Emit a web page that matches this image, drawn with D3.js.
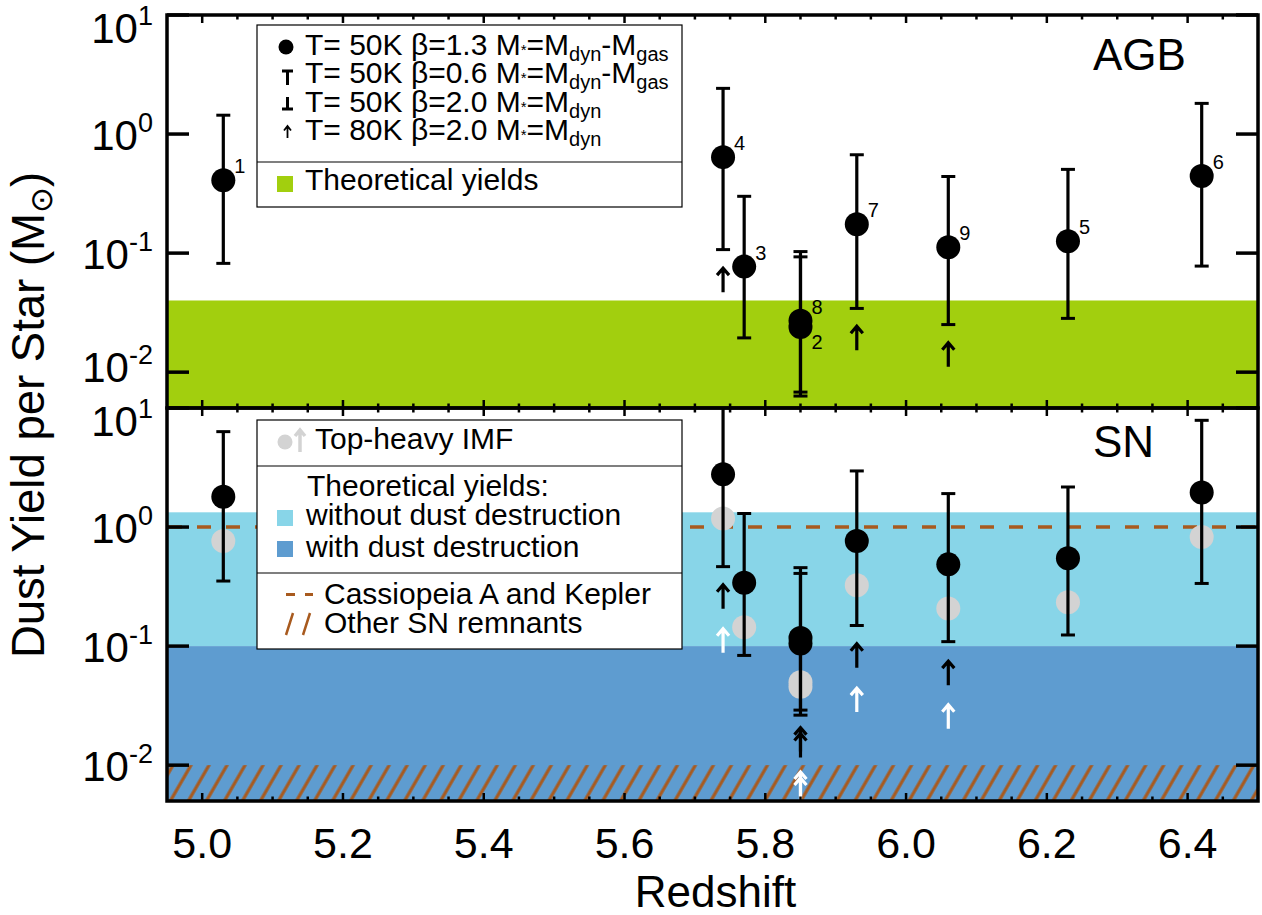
<!DOCTYPE html>
<html>
<head>
<meta charset="utf-8">
<script src="https://cdn.jsdelivr.net/npm/d3@7"></script>
<style>
  body { margin: 0; background: #fff; }
  text { font-family: "Liberation Sans", Arial, Helvetica, sans-serif; fill: #000; }
</style>
</head>
<body>
<svg id="chart" width="1262" height="915"></svg>
<script>
// ---- data ----
const sources  = ["1", "4", "3", "8", "2", "7", "9", "5", "6"];
const redshift = [5.03, 5.74, 5.77, 5.85, 5.85, 5.93, 6.06, 6.23, 6.42];

// AGB panel (M_sun per star)
const agbYield = [0.41, 0.64, 0.077, 0.027, 0.024, 0.175, 0.112, 0.126, 0.444];
const agbUpper = [1.44, 2.42, 0.30, 0.103, 0.093, 0.67, 0.44, 0.505, 1.81];
const agbLower = [0.082, 0.107, 0.0194, 0.0068, 0.0063, 0.0343, 0.0251, 0.0283, 0.0778];
const agbHot   = [null, 0.047, null, null, null, 0.0153, 0.0111, null, null];

// SN panel
const snYield  = [1.80, 2.77, 0.341, 0.117, 0.105, 0.763, 0.486, 0.546, 1.95];
const snUpper  = [6.33, 10.5, 1.30, 0.456, 0.408, 2.96, 1.91, 2.17, 7.88];
const snLower  = [0.352, 0.465, 0.0835, 0.029, 0.0263, 0.149, 0.109, 0.124, 0.336];
const snHot    = [null, 0.206, null, 0.013, 0.0116, 0.0658, 0.047, null, null];
const snTopHeavy    = [0.763, 1.18, 0.144, 0.0498, 0.0456, 0.324, 0.207, 0.234, 0.824];
const snTopHeavyHot = [null, 0.088, null, 0.0055, 0.0049, 0.0279, 0.0202, null, null];

// theoretical ranges
const agbTheory      = [0.005, 0.04];
const snNoDestruct   = [0.1, 1.33];
const snDestruct     = [0.005, 0.1];
const snRemnants     = [0.005, 0.01];
const casKepler      = 1.0;

const xTicks    = [5.0, 5.2, 5.4, 5.6, 5.8, 6.0, 6.2, 6.4];
const xDomain   = [4.95, 6.5];
const yDomain   = [0.005, 10];
const yTickExps = [-2, -1, 0, 1];

// ---- colours ----
const GREEN = "#a2cf0e", LBLUE = "#88d5e8", DBLUE = "#5e9cd0", BROWN = "#a85a1e", GREY = "#d3d3d3";

const svg = d3.select("#chart");
const left = 167, right = 1258;
const x = d3.scaleLinear().domain(xDomain).range([left, right]);

const panels = [
  { name: "AGB", top: 15, bottom: 408 },
  { name: "SN",  top: 408, bottom: 801 }
];
panels.forEach(p => { p.y = d3.scaleLog().domain(yDomain).range([p.bottom, p.top]); });

const defs = svg.append("defs");
panels.forEach((p, i) => {
  defs.append("clipPath").attr("id", "clip" + i)
    .append("rect").attr("x", left).attr("y", p.top).attr("width", right - left).attr("height", p.bottom - p.top);
});
const hatch = defs.append("pattern").attr("id", "hatch")
  .attr("patternUnits", "userSpaceOnUse").attr("width", 15.6).attr("height", 20)
  .attr("patternTransform", "rotate(30)");
hatch.append("line").attr("x1", 2).attr("y1", -5).attr("x2", 2).attr("y2", 25)
  .attr("stroke", BROWN).attr("stroke-width", 3.2);

function band(g, p, range, fill) {
  g.append("rect").attr("x", left).attr("width", right - left)
    .attr("y", p.y(range[1])).attr("height", p.y(range[0]) - p.y(range[1]))
    .attr("fill", fill);
}

function errorBar(g, p, xv, lo, hi) {
  const cx = x(xv);
  g.append("line").attr("x1", cx).attr("x2", cx).attr("y1", p.y(lo)).attr("y2", p.y(hi))
    .attr("stroke", "#000").attr("stroke-width", 3.2);
  [lo, hi].forEach(v => {
    g.append("line").attr("x1", cx - 7).attr("x2", cx + 7).attr("y1", p.y(v)).attr("y2", p.y(v))
      .attr("stroke", "#000").attr("stroke-width", 3);
  });
}

function arrow(g, cx, yTail, len, head, color, sw) {
  const tip = yTail - len;
  g.append("path")
    .attr("d", `M${cx},${yTail}V${tip + 1}M${cx - head},${tip + head + 2}L${cx},${tip + 1}L${cx + head},${tip + head + 2}`)
    .attr("fill", "none").attr("stroke", color).attr("stroke-width", sw)
    .attr("stroke-linejoin", "miter");
}

// ---- panel contents ----
panels.forEach((p, pi) => {
  const g = svg.append("g").attr("clip-path", `url(#clip${pi})`);
  if (pi === 0) {
    band(g, p, agbTheory, GREEN);
  } else {
    band(g, p, snNoDestruct, LBLUE);
    band(g, p, snDestruct, DBLUE);
    band(g, p, snRemnants, "url(#hatch)");
    g.append("line").attr("x1", left + 1).attr("x2", right).attr("y1", p.y(casKepler)).attr("y2", p.y(casKepler))
      .attr("stroke", BROWN).attr("stroke-width", 3.5).attr("stroke-dasharray", "14,15");
  }

  const val = pi === 0 ? agbYield : snYield;
  const up  = pi === 0 ? agbUpper : snUpper;
  const lo  = pi === 0 ? agbLower : snLower;
  const hot = pi === 0 ? agbHot : snHot;

  if (pi === 1) {
    g.selectAll("circle.th").data(snTopHeavy).enter().append("circle")
      .attr("cx", (d, i) => x(redshift[i])).attr("cy", d => p.y(d)).attr("r", 12).attr("fill", GREY);
    snTopHeavyHot.forEach((v, i) => { if (v != null) arrow(g, x(redshift[i]), p.y(v), 25, 6, "#fff", 3.2); });
  }
  hot.forEach((v, i) => { if (v != null) arrow(g, x(redshift[i]), p.y(v), 25, 6, "#000", 3.2); });
  val.forEach((v, i) => errorBar(g, p, redshift[i], lo[i], up[i]));
  g.selectAll("circle.pt").data(val).enter().append("circle")
    .attr("cx", (d, i) => x(redshift[i])).attr("cy", d => p.y(d)).attr("r", 12).attr("fill", "#000");

  if (pi === 0) {
    svg.append("g").selectAll("text").data(val).enter().append("text")
      .attr("x", (d, i) => x(redshift[i]) + 11)
      .attr("y", (d, i) => p.y(d) + (sources[i] === "2" ? 22 : -7))
      .attr("font-size", 20)
      .text((d, i) => sources[i]);
  }

  // frame
  svg.append("rect").attr("x", left).attr("y", p.top).attr("width", right - left).attr("height", p.bottom - p.top)
    .attr("fill", "none").attr("stroke", "#000").attr("stroke-width", 3.5);

  // x ticks (major + minor), top and bottom, pointing inward
  const minor = d3.range(99, 131).map(k => k * 0.05).filter(v => v > xDomain[0] + 1e-6 && v < xDomain[1] - 1e-6);
  const tg = svg.append("g").attr("stroke", "#000").attr("stroke-width", 2.5);
  minor.forEach(v => {
    const isMajor = xTicks.some(t => Math.abs(t - v) < 1e-6);
    const len = isMajor ? 8 : 4.5;
    tg.append("line").attr("x1", x(v)).attr("x2", x(v)).attr("y1", p.top).attr("y2", p.top + len);
    tg.append("line").attr("x1", x(v)).attr("x2", x(v)).attr("y1", p.bottom).attr("y2", p.bottom - len);
  });
  // y ticks; labels at the panel edges are nudged inward as in the original
  yTickExps.forEach(e => {
    const yy = p.y(Math.pow(10, e));
    tg.append("line").attr("x1", left).attr("x2", left + 22).attr("y1", yy).attr("y2", yy).attr("stroke-width", 3.5);
    tg.append("line").attr("x1", right - 22).attr("x2", right).attr("y1", yy).attr("y2", yy).attr("stroke-width", 3.5);
    let off = 16;
    if (e === 1) off = 28;
    if (e === -2 && pi === 0) off = 10;
    const t = svg.append("text").attr("x", 153).attr("y", yy + off).attr("text-anchor", "end").attr("font-size", 42);
    t.append("tspan").text("10");
    t.append("tspan").attr("font-size", 27).attr("dy", -18).text(String(e));
  });

  svg.append("text").attr("x", 1093).attr("y", p.top + (pi === 0 ? 55 : 49)).attr("font-size", 44).text(p.name);
});

// x tick labels + titles
svg.append("g").selectAll("text").data(xTicks).enter().append("text")
  .attr("x", d => x(d)).attr("y", 858).attr("text-anchor", "middle").attr("font-size", 43)
  .text(d => d.toFixed(1));
svg.append("text").attr("x", (left + right) / 2 + 3).attr("y", 907).attr("text-anchor", "middle")
  .attr("font-size", 44).text("Redshift");

const yt = svg.append("text").attr("transform", "translate(44,415) rotate(-90)")
  .attr("text-anchor", "middle").attr("font-size", 45.5);
yt.append("tspan").text("Dust Yield per Star (M");
yt.append("tspan").attr("font-size", 31).attr("dy", 8).style("font-family", "DejaVu Sans").text("\u2299");
yt.append("tspan").attr("dy", -8).text(")");

// ---- legends ----
function legendBox(x0, y0, x1, y1, dividers) {
  svg.append("rect").attr("x", x0).attr("y", y0).attr("width", x1 - x0).attr("height", y1 - y0)
    .attr("fill", "#fff").attr("stroke", "#000").attr("stroke-width", 1.2);
  dividers.forEach(d => svg.append("line").attr("x1", x0).attr("x2", x1).attr("y1", d).attr("y2", d)
    .attr("stroke", "#000").attr("stroke-width", 1.2));
}
function legendText(xx, yy, parts) {
  const t = svg.append("text").attr("x", xx).attr("y", yy).attr("font-size", 30);
  let shift = 0;
  parts.forEach(([s, kind]) => {
    const sp = t.append("tspan").text(s);
    if (kind === "sub") { sp.attr("font-size", 20).attr("dy", 6 - shift); shift = 6; }
    else if (kind === "star") { sp.attr("font-size", 15).attr("dy", -shift); shift = 0; }
    else if (shift) { sp.attr("dy", -shift); shift = 0; }
  });
  return t;
}

legendBox(257, 25, 682, 207, [162]);
const legendRows = [
  ["1.3", "50K", true], ["0.6", "50K", true], ["2.0", "50K", false], ["2.0", "80K", false]
];
legendRows.forEach((r, i) => {
  const parts = [[`T= ${r[1]} \u03b2=${r[0]} M`], ["*", "star"], ["=M"], ["dyn", "sub"]];
  if (r[2]) { parts.push(["-M"]); parts.push(["gas", "sub"]); }
  legendText(305, 55 + i * 28.4, parts);
});
svg.append("circle").attr("cx", 286).attr("cy", 47).attr("r", 7.5).attr("fill", "#000");
svg.append("path").attr("d", "M282,71H293M287.5,71V85").attr("stroke", "#000").attr("stroke-width", 3).attr("fill", "none");
svg.append("path").attr("d", "M287.5,97V109M282,109H293").attr("stroke", "#000").attr("stroke-width", 3).attr("fill", "none");
arrow(svg, 287.5, 138, 13, 3.5, "#000", 1.8);
svg.append("rect").attr("x", 277).attr("y", 176).attr("width", 16).attr("height", 16).attr("fill", GREEN);
legendText(305, 190, [["Theoretical yields"]]);

legendBox(257, 420, 682, 649, [466, 573]);
svg.append("circle").attr("cx", 285).attr("cy", 442).attr("r", 7.5).attr("fill", GREY);
arrow(svg, 300, 452, 23, 5, GREY, 3.5);
legendText(315, 449, [["Top-heavy IMF"]]);
legendText(307, 496, [["Theoretical yields:"]]);
svg.append("rect").attr("x", 277).attr("y", 510).attr("width", 16).attr("height", 16).attr("fill", LBLUE);
legendText(306, 525, [["without dust destruction"]]);
svg.append("rect").attr("x", 277).attr("y", 541).attr("width", 16).attr("height", 16).attr("fill", DBLUE);
legendText(306, 557, [["with dust destruction"]]);
svg.append("path").attr("d", "M286,594.5H295M305,594.5H313").attr("stroke", BROWN).attr("stroke-width", 3);
legendText(324, 604, [["Cassiopeia A and Kepler"]]);
svg.append("path").attr("d", "M286,635L293,613M303,635L310,613").attr("stroke", BROWN).attr("stroke-width", 2.5);
legendText(324, 633, [["Other SN remnants"]]);
</script>
</body>
</html>
